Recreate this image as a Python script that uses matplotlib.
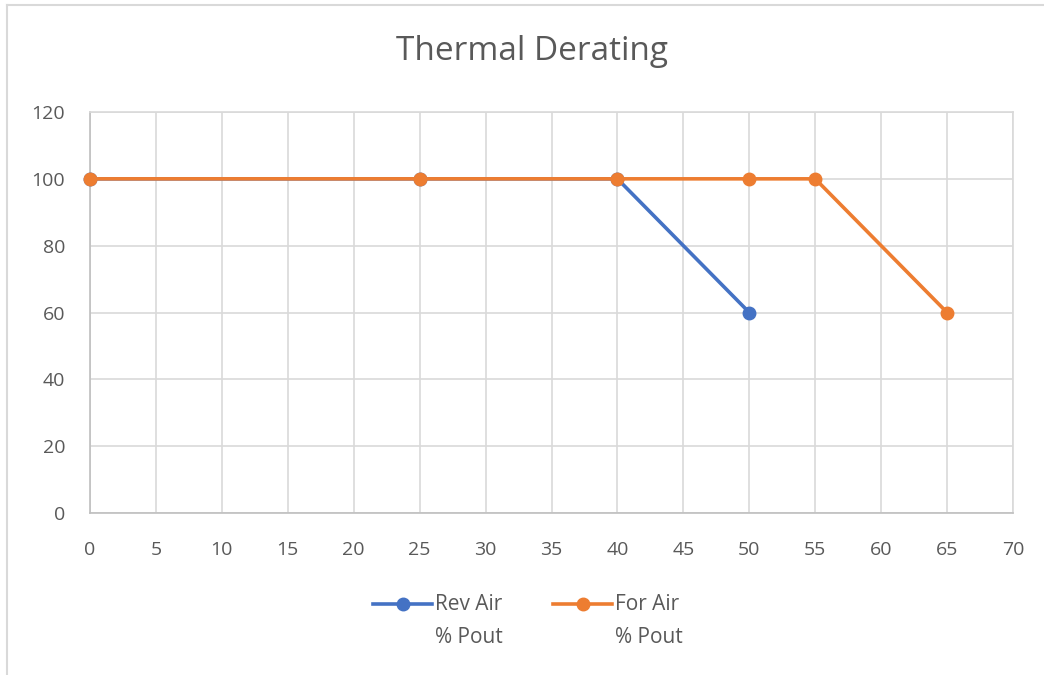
import matplotlib
matplotlib.use("Agg")
import matplotlib.pyplot as plt
from matplotlib.lines import Line2D

title = "Thermal Derating"
rev_x = [0, 25, 40, 50]
rev_y = [100, 100, 100, 60]
for_x = [0, 25, 40, 50, 55, 65]
for_y = [100, 100, 100, 100, 100, 60]
labels = ["Rev Air\n% Pout", "For Air\n% Pout"]
xticks = list(range(0, 75, 5))
yticks = list(range(0, 140, 20))

blue = "#4472C4"
orange = "#ED7D31"
txt = "#595959"
grid = "#D9D9D9"

plt.rcParams['font.family'] = ['Open Sans', 'DejaVu Sans']

fig = plt.figure(figsize=(10.44, 6.75), dpi=100)
ax = fig.add_axes([90/1044, 1-513/675, (1013-90)/1044, (513-112)/675])

l1, = ax.plot(rev_x, rev_y, color=blue, lw=2.6, marker='o', ms=9, zorder=3)
l2, = ax.plot(for_x, for_y, color=orange, lw=2.6, marker='o', ms=9, zorder=4)

ax.set_xlim(0, 70)
ax.set_ylim(0, 120)
ax.set_xticks(xticks)
ax.set_yticks(yticks)
ax.grid(True, color=grid, lw=1.2)
ax.set_axisbelow(True)
for s in ax.spines.values():
    s.set_color(grid)
    s.set_linewidth(1.2)
ax.spines['left'].set_color('#BFBFBF')
ax.spines['bottom'].set_color('#BFBFBF')
ax.tick_params(length=0, colors=txt, labelsize=14)
ax.tick_params(axis='y', pad=18)
ax.tick_params(axis='x', pad=20)
for l in (l1, l2):
    l.set_clip_on(False)

fig.text(532/1044, 1-52/675, title, ha='center', va='center', fontsize=24, color=txt)

# legend (handle aligned with first label line, as in the reference)
W, H = 1044, 675
legend_items = [(l1, 373, 432, 435), (l2, 553, 612, 615)]
for (line, x0, x1, xt), lab in zip(legend_items, labels):
    ly = 1 - 604/H
    fig.add_artist(Line2D([x0/W, x1/W], [ly, ly], color=line.get_color(), lw=2.6,
                          transform=fig.transFigure))
    fig.add_artist(Line2D([(x0+x1)/2/W], [ly], color=line.get_color(), marker='o', ms=9,
                          lw=0, transform=fig.transFigure))
    fig.text(xt/W, 1-594/H, lab, ha='left', va='top', fontsize=15, color=txt,
             linespacing=1.75)

fig.add_artist(Line2D([7/1044, 1.0], [1-5/675, 1-5/675], color=grid, lw=1.5, transform=fig.transFigure))
fig.add_artist(Line2D([7/1044, 7/1044], [0, 1-5/675], color=grid, lw=1.5, transform=fig.transFigure))

fig.savefig("out.png", dpi=100)
